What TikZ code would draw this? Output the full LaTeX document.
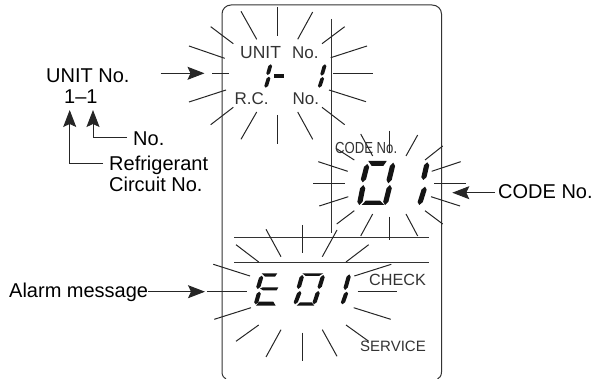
\documentclass[tikz,border=0pt]{standalone}
\usepackage{fontspec}
\setmainfont{Liberation Sans}
\usetikzlibrary{arrows.meta}
\tikzset{
  ln/.style={draw=black!80,line width=1pt},
  ray/.style={draw=black!85,line width=1pt},
  seg/.style={fill=black!92,draw=none},
  lbl/.style={anchor=base west,inner sep=0pt,font=\fontsize{20}{20}\selectfont,text=black},
  lcd/.style={anchor=base west,inner sep=0pt,text=black!80},
  arr/.style={draw=black!85,line width=1pt,-{Stealth[length=17pt,width=13pt,inset=3pt]}}
}
% vertical LCD segment: tapered bar, args: x1,y1,x2,y2,half width
\newcommand{\vsg}[5]{\fill[seg] (#1,#2)
  -- ({#1+0.16*(#3-#1)+#5},{#2+0.16*(#4-#2)})
  -- ({#1+0.84*(#3-#1)+#5},{#2+0.84*(#4-#2)})
  -- (#3,#4)
  -- ({#1+0.84*(#3-#1)-#5},{#2+0.84*(#4-#2)})
  -- ({#1+0.16*(#3-#1)-#5},{#2+0.16*(#4-#2)}) -- cycle;}
\begin{document}
\begin{tikzpicture}[x=1pt,y=-1pt]
\useasboundingbox (0,0) rectangle (598,379);
% panel
\draw[ln] (226,379) .. controls (224,378) and (222,376) .. (222,372) -- (222,14)
  .. controls (222,9) and (226,5) .. (231,5) -- (432,5)
  .. controls (437.5,5) and (441.5,9) .. (441.5,14) -- (441.5,372)
  .. controls (441.5,376) and (439.5,378) .. (437.5,379);
\draw[ln] (331,19) -- (331,232.7);
\draw[ln] (234.3,237.3) -- (429.3,237.3);
\draw[ln] (234.3,262.7) -- (429.3,262.7);
% rays
\foreach \a/\b/\c/\d in {
277/7/277/36, 241/11.3/256.7/39.3, 312.7/12/297.7/39.3, 210.7/26.7/233.3/43.7, 344.7/26.7/322/43.7,
189/46/224.7/58.3, 367/46/330.7/57.7, 212/74/229.3/74, 333/74/373/74, 189/102/226/90, 366/101.7/329/90,
210.7/124.7/233.3/107.3, 344.7/124.7/322/107.3, 241/139.3/256.7/112, 312.7/139.3/297.7/112, 277/115/277/144.3,
389.3/130.7/389.3/153, 360.7/134/372.7/156, 417.7/135/406/156, 336/148.3/354.3/160, 442.7/146/425/160,
318.3/161.7/347.7/171.3, 460.7/161.7/431.7/171.3, 313.3/184/345.3/184, 434/184/465.7/184,
319.3/206/348.3/196.7, 460/206/431/196.7, 336.7/224/354.3/210.7, 442.7/224/425/210.7,
360.7/236/372.7/214, 417.7/236/406/214, 389.3/216.7/389.3/240,
302/225/302/253.3, 266/229.3/281/256.7, 337/230/322.3/256.7, 236/244.7/258.7/262, 368.7/244.7/346/262,
213.3/264.3/250/276, 391.3/264.3/354.3/276, 207.3/291.7/246.7/291.7, 357.7/291.7/397.3/291.7,
214.3/319.3/251/307.7, 390.7/319.3/353.7/307.7, 236/341.3/258.7/325, 368.7/341.3/346/325,
266/357/281/329.7, 337/356.3/322.3/329.7, 302/332.7/302/361.3}
  \draw[ray] (\a,\b) -- (\c,\d);
% digits: 1- 1
\vsg{270.7}{64.3}{267.7}{75}{1.9}
\vsg{269}{76.7}{265.7}{87.7}{1.9}
\fill[seg] (274.3,74.4) rectangle (284,77.6);
\vsg{325}{64.3}{321.7}{75.7}{1.9}
\vsg{322.7}{77}{319.3}{87.7}{1.9}
% digits: 0 1 (code)
\fill[seg] (368.3,161) -- (386.7,161) -- (383.3,166) -- (371.7,166) -- cycle;
\vsg{367.3}{164}{362.7}{182.3}{2.6}
\vsg{393.3}{162.7}{388.3}{183.3}{2.6}
\vsg{363.3}{185}{359.3}{205}{2.6}
\vsg{390}{185}{385}{205}{2.6}
\fill[seg] (365.7,200.7) -- (380,200.7) -- (384.3,205) -- (361.7,205) -- cycle;
\vsg{427.3}{162.3}{423.3}{180}{2.6}
\vsg{425}{186.7}{419.3}{205}{2.6}
% digits: E 0 1 (alarm)
\fill[seg] (261.7,273.3) -- (277.3,273.3) -- (275,276.7) -- (265,276.7) -- cycle;
\vsg{261.7}{275.7}{257.7}{289}{2.1}
\fill[seg] (260,288.5) -- (263,287.3) -- (278.3,287.3) -- (276.7,290.3) -- (263,290.3) -- cycle;
\vsg{259.3}{291.7}{255.7}{304.3}{2.1}
\fill[seg] (259,301.7) -- (273.3,301.7) -- (275.7,305.7) -- (256,305.7) -- cycle;
\fill[seg] (302.3,273.3) -- (323.3,273.3) -- (319,276) -- (305.7,276) -- cycle;
\vsg{302.3}{275}{298.3}{289}{2.1}
\vsg{323.3}{275}{319}{289}{2.1}
\vsg{300}{291}{295}{304.3}{2.1}
\vsg{318.3}{291}{314}{304.3}{2.1}
\fill[seg] (300,302.3) -- (311.7,302.3) -- (314.3,305.7) -- (296.7,305.7) -- cycle;
\vsg{349.3}{274.3}{345}{290}{2.1}
\vsg{346.7}{291.7}{342.3}{304.3}{2.1}
% left labels
\node[lbl] (unitlbl) at (46,82.7) {UNIT No.};
\node[lbl] (onetoone) at (64,104) {1–1};
\node[lbl] (nolbl) at (133,145.7) {No.};
\node[lbl] (reflbl) at (109,170.7) {Refrigerant};
\node[lbl] (cirlbl) at (109,191.7) {Circuit No.};
\node[lbl] (alarmlbl) at (9,298) {Alarm message};
\node[lbl] (codelbl) at (498,199) {CODE No.};
% panel labels
\node[lcd,font=\fontsize{17.5}{17.5}\selectfont] (u1) at (240,58.3) {UNIT};
\node[lcd,font=\fontsize{17}{17}\selectfont] (u2) at (292,58.3) {No.};
\node[lcd,font=\fontsize{17}{17}\selectfont] (r1) at (234.5,104.3) {R.C.};
\node[lcd,font=\fontsize{17}{17}\selectfont] (r2) at (292.5,104.3) {No.};
\node[lcd,font=\fontsize{16}{16}\selectfont] (c1) at (335,153.3) {\scalebox{0.82}[1]{CODE No.}};
\node[lcd,font=\fontsize{16.2}{16.2}\selectfont] (c2) at (369,286) {CHECK};
\node[lcd,font=\fontsize{15}{15}\selectfont] (c3) at (360,351.7) {SERVICE};
% arrows
\coordinate (a1s) at (160.7,73.3); \coordinate (a1e) at (204.5,73.3);
\coordinate (a2s) at (495,192.7);  \coordinate (a2e) at (452.3,192.7);
\coordinate (a3e) at (205,291.7);
\coordinate (t1) at (69.7,110); \coordinate (t2) at (93,110);
\draw[arr] (a1s) -- (a1e);
\draw[arr] (a2s) -- (a2e);
\draw[arr] (alarmlbl.east |- a3e) -- (a3e);
\draw[arr] (reflbl.west |- 0,163.7) ++(-6,0) -| (t1);
\draw[arr] (nolbl.west |- 0,138) ++(-6,0) -| (t2);
\end{tikzpicture}
\end{document}
